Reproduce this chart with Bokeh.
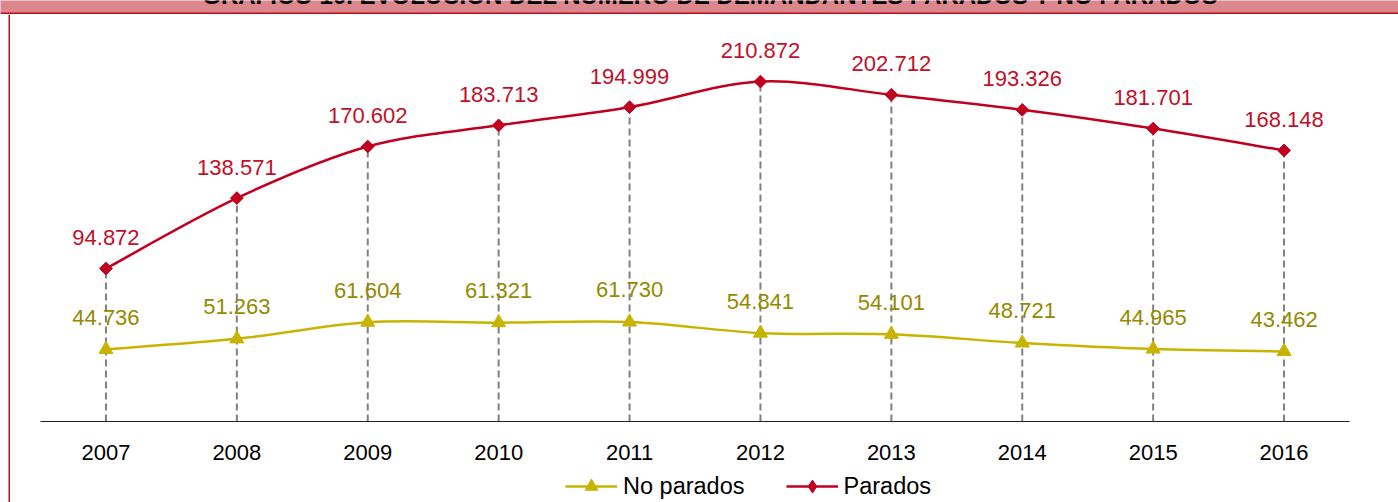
import numpy as np
from bokeh.plotting import figure
from bokeh.layouts import column, row
from bokeh.models import (ColumnDataSource, FixedTicker, Legend, LegendItem,
                          BoxAnnotation, Label, Range1d)
from bokeh.core.properties import value
from bokeh.embed import file_html
from bokeh.resources import INLINE

# ---------------- data ----------------
years = [2007, 2008, 2009, 2010, 2011, 2012, 2013, 2014, 2015, 2016]
parados = [94872, 138571, 170602, 183713, 194999, 210872, 202712, 193326, 181701, 168148]
no_parados = [44736, 51263, 61604, 61321, 61730, 54841, 54101, 48721, 44965, 43462]
series_names = ["No parados", "Parados"]
title_text = "GRÁFICO 10. EVOLUCIÓN DEL NÚMERO DE DEMANDANTES PARADOS Y NO PARADOS"

RED = "#C0001E"
RED_TXT = "#C0102A"
YEL = "#C8B400"
YEL_TXT = "#948A00"
BAND = "#DC868D"
DARKRED = "#B5121B"
FONT = "Liberation Sans"


def fmt(v):
    return f"{v:,}".replace(",", ".")


def smooth_segments(xs, ys):
    """Bezier control points for a smoothed line through the data points."""
    n = len(xs)
    seg = dict(x0=[], y0=[], x1=[], y1=[], cx0=[], cy0=[], cx1=[], cy1=[])
    for i in range(n - 1):
        im = max(i - 1, 0)
        ip = min(i + 2, n - 1)
        seg["x0"].append(xs[i]); seg["y0"].append(ys[i])
        seg["x1"].append(xs[i + 1]); seg["y1"].append(ys[i + 1])
        seg["cx0"].append(xs[i] + (xs[i + 1] - xs[im]) / 6)
        seg["cy0"].append(ys[i] + (ys[i + 1] - ys[im]) / 6)
        seg["cx1"].append(xs[i + 1] - (xs[ip] - xs[i]) / 6)
        seg["cy1"].append(ys[i + 1] - (ys[ip] - ys[i]) / 6)
    return ColumnDataSource(seg)


def bare(width, height):
    f = figure(width=width, height=height, min_border=0,
               x_axis_location=None, y_axis_location=None,
               toolbar_location=None, output_backend="svg")
    f.outline_line_color = None
    f.grid.visible = False
    f.border_fill_color = "white"
    f.background_fill_color = "white"
    return f


# ---------------- header band (cut-off title of the original box) ----------------
header = bare(1398, 14)
header.background_fill_color = BAND
header.add_layout(BoxAnnotation(left=0, right=1398, bottom=0, top=2,
                                left_units="screen", right_units="screen",
                                bottom_units="screen", top_units="screen",
                                fill_color=DARKRED, fill_alpha=1, line_color=None))
header.add_layout(Label(x=710, y=19, x_units="screen", y_units="screen",
                        text=title_text, text_align="center", text_baseline="alphabetic",
                        text_font=FONT, text_font_style="bold", text_font_size="24px",
                        text_color="black"))

# ---------------- left border of the box ----------------
border = bare(10, 488)
border.add_layout(BoxAnnotation(left=8, right=10, bottom=0, top=488,
                                left_units="screen", right_units="screen",
                                bottom_units="screen", top_units="screen",
                                fill_color=DARKRED, fill_alpha=1, line_color=None))

# ---------------- main chart ----------------
p = figure(width=1388, height=456,
           x_range=Range1d(years[0] - 0.5, years[-1] + 0.5),
           y_range=Range1d(0, 250000),
           min_border_left=30, min_border_right=49,
           min_border_top=4, min_border_bottom=49,
           y_axis_location=None, toolbar_location=None,
           output_backend="svg")
p.outline_line_color = None
p.grid.visible = False
p.background_fill_color = "white"
p.border_fill_color = "white"

ax = p.xaxis[0]
ax.ticker = FixedTicker(ticks=years)
ax.major_label_text_font = FONT
ax.major_label_text_font_size = "22px"
ax.major_label_text_color = "black"
ax.major_tick_line_color = None
ax.minor_tick_line_color = None
ax.axis_line_color = "#222222"
ax.axis_line_width = 1.2
ax.major_label_standoff = 17

# drop lines
p.segment(x0=years, y0=0, x1=years, y1=parados,
          line_color="#808080", line_width=2, line_dash="7 4")

# smoothed lines
p.bezier(x0="x0", y0="y0", x1="x1", y1="y1", cx0="cx0", cy0="cy0",
         cx1="cx1", cy1="cy1", source=smooth_segments(years, no_parados),
         line_color=YEL, line_width=2.5)
p.bezier(x0="x0", y0="y0", x1="x1", y1="y1", cx0="cx0", cy0="cy0",
         cx1="cx1", cy1="cy1", source=smooth_segments(years, parados),
         line_color=RED, line_width=2.5)

p.scatter(years, no_parados, marker="triangle", size=14,
          fill_color=YEL, line_color=YEL)
p.scatter(years, parados, marker="square", angle=np.pi / 4, size=9,
          fill_color=RED, line_color=RED)

# data labels
p.text(x=years, y=parados, text=[fmt(v) for v in parados],
       text_align="center", text_baseline="alphabetic", y_offset=-31,
       text_font=value(FONT), text_font_size="22px", text_color=RED_TXT)
p.text(x=years, y=no_parados, text=[fmt(v) for v in no_parados],
       text_align="center", text_baseline="alphabetic", y_offset=-32,
       text_font=value(FONT), text_font_size="22px", text_color=YEL_TXT)

# ---------------- legend strip ----------------
# same series drawn off-view (ranges exclude the data) so only the legend shows
lg = bare(1388, 32)
lg.x_range = Range1d(0, 1)
lg.y_range = Range1d(0, 1)
l_np = lg.bezier(x0="x0", y0="y0", x1="x1", y1="y1", cx0="cx0", cy0="cy0",
                 cx1="cx1", cy1="cy1", source=smooth_segments(years, no_parados),
                 line_color=YEL, line_width=2.5)
m_np = lg.scatter(years, no_parados, marker="triangle", fill_color=YEL, line_color=YEL)
l_p = lg.bezier(x0="x0", y0="y0", x1="x1", y1="y1", cx0="cx0", cy0="cy0",
                cx1="cx1", cy1="cy1", source=smooth_segments(years, parados),
                line_color=RED, line_width=2.5)
m_p = lg.scatter(years, parados, marker="diamond", fill_color=RED, line_color=RED)

legend = Legend(items=[LegendItem(label=series_names[0], renderers=[l_np, m_np]),
                       LegendItem(label=series_names[1], renderers=[l_p, m_p])],
                orientation="horizontal", location=(525, 0),
                glyph_width=52, glyph_height=32, label_height=32,
                label_standoff=6, spacing=41, padding=0, margin=0,
                border_line_color=None, background_fill_alpha=0,
                label_text_font=FONT, label_text_font_size="23.5px",
                label_text_color="black")
lg.add_layout(legend)

layout = column(header, row(border, column(p, lg, spacing=0), spacing=0), spacing=0)

html = file_html(layout, INLINE)
html = html.replace("<head>", "<head><style>html,body{margin:0;padding:0;}</style>", 1)
open("out.html", "w").write(html)
